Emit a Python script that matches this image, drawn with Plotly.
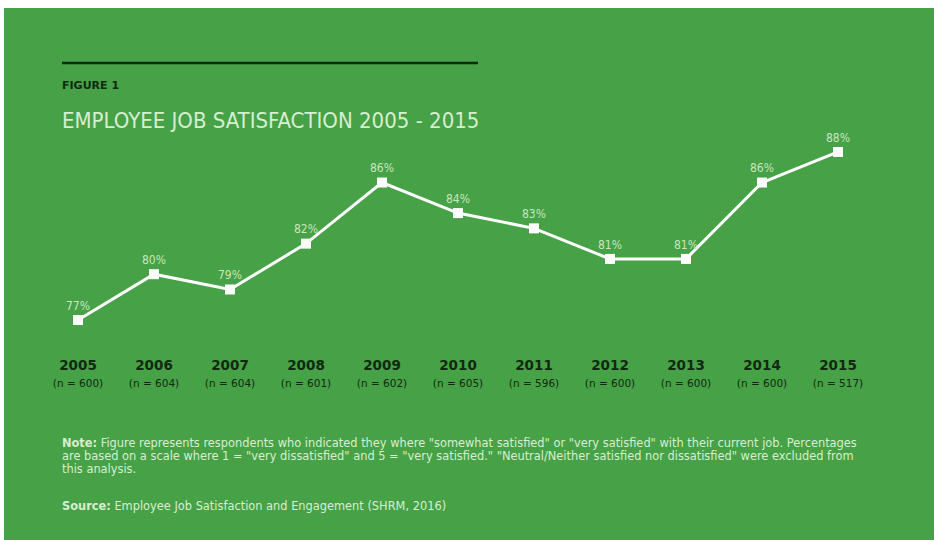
import plotly.graph_objects as go

years = [2005, 2006, 2007, 2008, 2009, 2010, 2011, 2012, 2013, 2014, 2015]
sample_sizes = [600, 604, 604, 601, 602, 605, 596, 600, 600, 600, 517]
satisfaction = [77, 80, 79, 82, 86, 84, 83, 81, 81, 86, 88]

note_lines = [
    "<b>Note:</b> Figure represents respondents who indicated they where \"somewhat satisfied\" or \"very satisfied\" with their current job. Percentages",
    "are based on a scale where 1 = \"very dissatisfied\" and 5 = \"very satisfied.\" \"Neutral/Neither satisfied nor dissatisfied\" were excluded from",
    "this analysis.",
]
source_text = "<b>Source:</b> Employee Job Satisfaction and Engagement (SHRM, 2016)"

W, H = 934, 540
L, R, T, B = 40, 58, 137, 205
PW, PH = W - L - R, H - T - B

def px(x):
    return (x - L) / PW

def py(y):
    return (H - B - y) / PH

GREEN = "#47a147"
DARK = "#102a12"
LIGHT = "#d6efd0"
LABEL = "#c6e6bf"
COND = "DejaVu Sans Condensed, Liberation Sans Narrow, sans-serif"
SANS = "DejaVu Sans, sans-serif"

tick_text = [
    f"<b>{y}</b><br><span style='font-size:10.5px'>(n = {n})</span>"
    for y, n in zip(years, sample_sizes)
]

fig = go.Figure()
fig.add_trace(go.Scatter(
    x=years, y=satisfaction,
    mode="lines+markers+text",
    line=dict(color="white", width=3),
    marker=dict(symbol="square", size=10, color="white"),
    text=[f"{v}%" for v in satisfaction],
    textposition="top center",
    textfont=dict(family=COND, size=12, color=LABEL),
    hoverinfo="skip",
    cliponaxis=False,
))

shapes = [
    dict(type="rect", xref="paper", yref="paper", layer="below",
         x0=px(4), x1=px(W), y0=py(8), y1=py(H),
         fillcolor=GREEN, line=dict(width=0)),
    dict(type="line", xref="paper", yref="paper",
         x0=px(62), x1=px(478), y0=py(63), y1=py(63),
         line=dict(color=DARK, width=2.5)),
]

annotations = [
    dict(text="<b>FIGURE 1</b>", xref="paper", yref="paper", x=px(60), y=py(85),
         xanchor="left", yanchor="middle", showarrow=False,
         font=dict(family=SANS, size=11, color=DARK)),
    dict(text="EMPLOYEE JOB SATISFACTION 2005 - 2015", xref="paper", yref="paper",
         x=px(60), y=py(120), xanchor="left", yanchor="middle", showarrow=False,
         font=dict(family=COND, size=22, color=LIGHT)),
    dict(text=source_text,
         xref="paper", yref="paper", x=px(60), y=py(506), xanchor="left", yanchor="middle",
         showarrow=False, font=dict(family=SANS, size=11.4, color=LIGHT)),
]
for i, line in enumerate(note_lines):
    annotations.append(dict(
        text=line, xref="paper", yref="paper", x=px(60), y=py(443 + 13 * i),
        xanchor="left", yanchor="middle", showarrow=False,
        font=dict(family=SANS, size=11.4, color=LIGHT)))

fig.update_layout(
    width=W, height=H,
    margin=dict(l=L, r=R, t=T, b=B),
    paper_bgcolor="white", plot_bgcolor="rgba(0,0,0,0)",
    showlegend=False,
    shapes=shapes, annotations=annotations,
    xaxis=dict(range=[2004.5, 2015.5], tickmode="array", tickvals=years, ticktext=tick_text,
               showgrid=False, zeroline=False, showline=False, ticks="",
               tickfont=dict(family=SANS, size=13.5, color=DARK),
               ticklabelstandoff=20, fixedrange=True),
    yaxis=dict(range=[76.02, 88.98], visible=False, fixedrange=True),
)

fig.write_html("out.html")
